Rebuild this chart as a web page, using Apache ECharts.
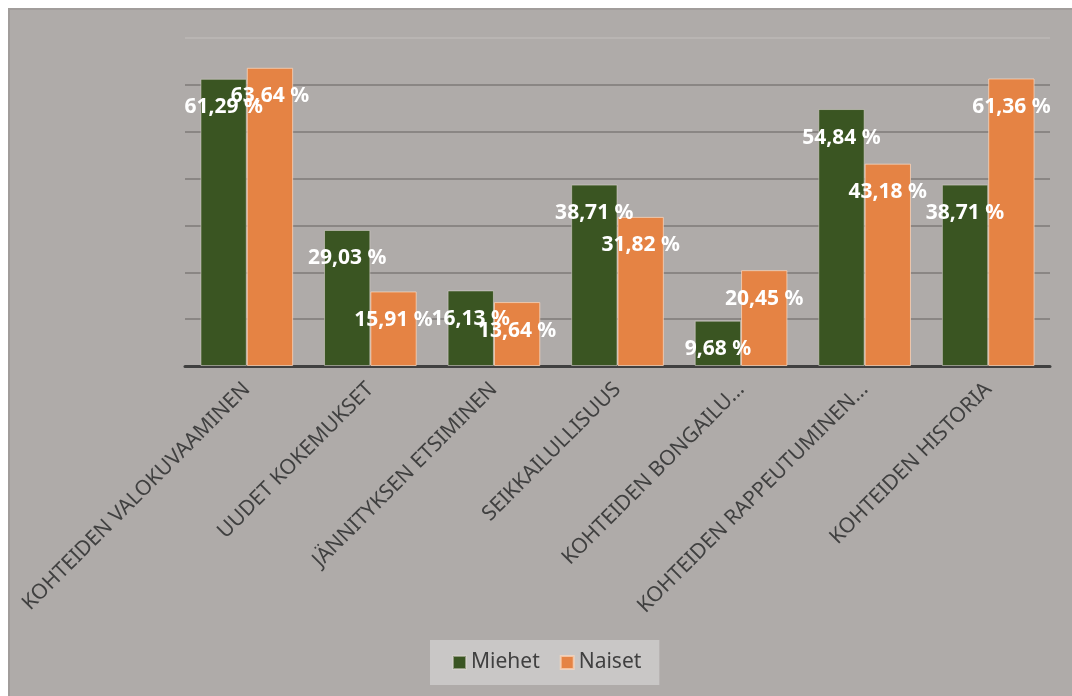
<!DOCTYPE html>
<html>
<head>
<meta charset="utf-8">
<script src="https://cdn.jsdelivr.net/npm/echarts@6/dist/echarts.min.js"></script>
<style>
  html, body { margin: 0; padding: 0; background: #ffffff; overflow: hidden; }
  #frame {
    position: absolute; left: 8px; top: 8px; width: 1070px; height: 694px;
    border-left: 2px solid #a19d9b; border-top: 2px solid #a19d9b;
    background: #afaba9;
  }
  #chart { width: 1070px; height: 694px; }
</style>
</head>
<body>
<div id="frame"><div id="chart"></div></div>
<script>
// Motives by gender, share of respondents (%)
const categories = [
  'KOHTEIDEN VALOKUVAAMINEN',
  'UUDET KOKEMUKSET',
  'JÄNNITYKSEN ETSIMINEN',
  'SEIKKAILULLISUUS',
  'KOHTEIDEN BONGAILU...',
  'KOHTEIDEN RAPPEUTUMINEN...',
  'KOHTEIDEN HISTORIA'
];
const miehet = [61.29, 29.03, 16.13, 38.71, 9.68, 54.84, 38.71];
const naiset = [63.64, 15.91, 13.64, 31.82, 20.45, 43.18, 61.36];
const seriesNames = ['Miehet', 'Naiset'];

const fmt = v => v.toFixed(2).replace('.', ',') + ' %';

const labelStyle = {
  show: true,
  position: 'insideTop',
  distance: 18,
  color: '#ffffff',
  fontFamily: 'Noto Sans',
  fontWeight: 'bold',
  fontSize: 21,
  formatter: p => fmt(p.value)
};

const chart = echarts.init(document.getElementById('chart'), null, { renderer: 'canvas' });
chart.setOption({
  backgroundColor: '#afaba9',
  animation: false,
  grid: { left: 175, top: 28, width: 865, height: 328, containLabel: false },
  legend: {
    data: seriesNames,
    left: 420, top: 630, width: 230, height: 45,
    padding: [12, 18, 12, 22],
    backgroundColor: '#c9c7c6',
    itemWidth: 13, itemHeight: 13, itemGap: 20,
    icon: 'rect',
    textStyle: { color: '#404040', fontFamily: 'Noto Sans', fontSize: 21 }
  },
  xAxis: {
    type: 'category',
    data: categories,
    axisLine: { show: true, lineStyle: { color: '#404040', width: 3 } },
    axisTick: { show: false },
    axisLabel: {
      rotate: 45, interval: 0, margin: 20,
      color: '#404040', fontFamily: 'Noto Sans', fontSize: 21
    }
  },
  yAxis: {
    type: 'value', min: 0, max: 70, interval: 10,
    axisLabel: { show: false },
    axisLine: { show: false },
    axisTick: { show: false },
    splitLine: {
      show: true,
      lineStyle: {
        color: ['#8a8684', '#8a8684', '#8a8684', '#8a8684', '#8a8684', '#8a8684', '#8a8684', '#b9b5b3'],
        width: 2
      }
    }
  },
  series: [
    {
      name: seriesNames[0], type: 'bar', data: miehet,
      barGap: '0%', barCategoryGap: '25%',
      itemStyle: { color: '#3a5522', borderColor: 'rgba(220,215,210,0.55)', borderWidth: 1 },
      label: labelStyle
    },
    {
      name: seriesNames[1], type: 'bar', data: naiset,
      itemStyle: { color: '#e58344', borderColor: 'rgba(250,215,190,0.75)', borderWidth: 1 },
      label: labelStyle
    }
  ]
});
</script>
</body>
</html>
